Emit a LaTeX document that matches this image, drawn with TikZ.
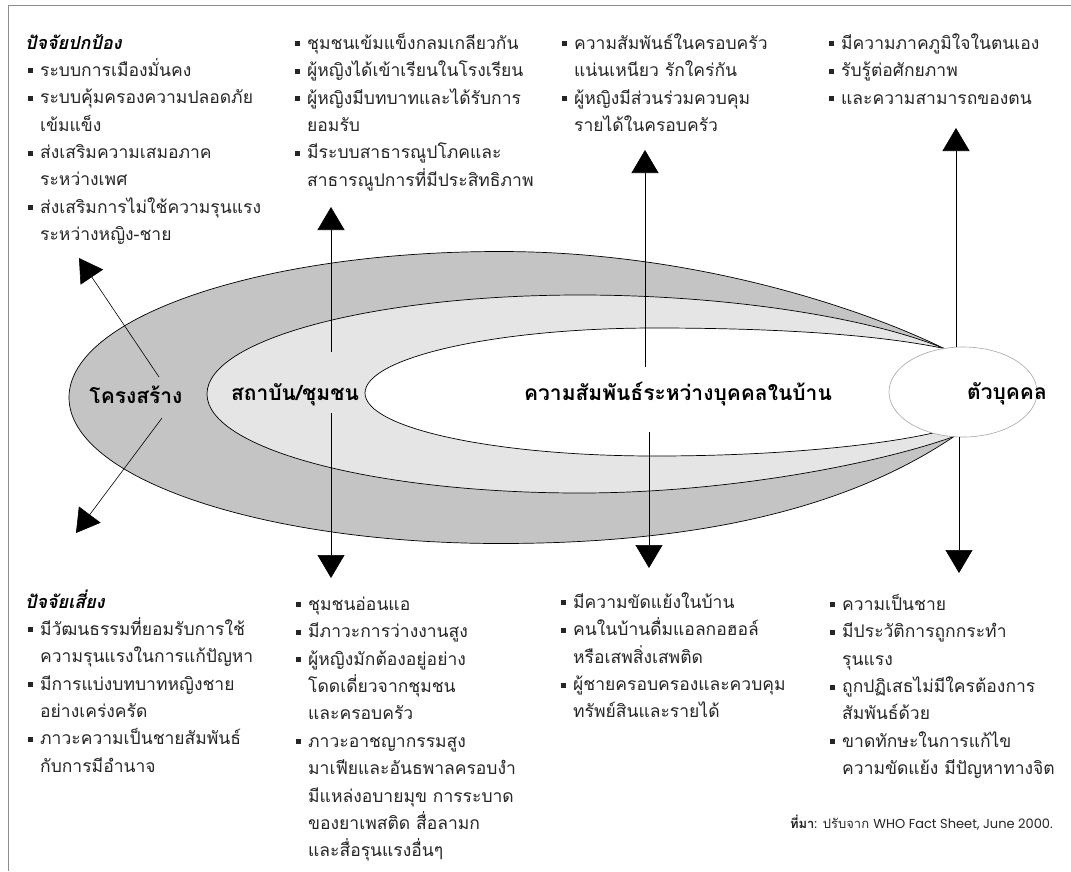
\documentclass[tikz,border=0pt]{standalone}
\usepackage{fontspec}
\usetikzlibrary{arrows.meta,shapes.geometric}
\newfontfamily\thai[Script=Thai]{Loma}
\newfontfamily\geo{Poppins}
\definecolor{outerfill}{gray}{0.77}
\definecolor{midfill}{gray}{0.90}
\definecolor{txt}{gray}{0.15}
\definecolor{framec}{gray}{0.55}
\newcommand{\bsq}{\llap{\rule[3pt]{5pt}{5pt}\hspace{7pt}}}
\tikzset{
  txtblk/.style={anchor=north west, inner sep=0pt, align=left, text=txt,
    font=\thai\fontsize{17.5}{27.4}\selectfont},
  headblk/.style={anchor=north west, inner sep=0pt, align=left, text=black,
    font=\thai\fontsize{18}{27.4}\selectfont\bfseries\itshape},
  lbl/.style={inner sep=0pt, text=black, font=\thai\fontsize{21}{25}\selectfont\bfseries},
  arr/.style={line width=0.6pt, draw=black, -{Triangle[length=23pt,width=27pt]}},
  shapeline/.style={draw=black, line width=0.7pt},
  framel/.style={draw=framec, line width=0.9pt}
}
\begin{document}
\begin{tikzpicture}[x=1pt,y=-1pt]
\useasboundingbox (0,0) rectangle (1071,871);
\fill[white] (0,0) rectangle (1071,871);
% frame
\draw[framel] (8,5) -- (1071,5);
\draw[framel] (8,5) -- (8,871);
% nested shapes
\path[fill=outerfill, shapeline] (944,348.5) .. controls (870,312) and (700,251.5) .. (500,251.5)
  .. controls (262,251.5) and (69,317) .. (69,397.5)
  .. controls (69,478) and (262,543.5) .. (500,543.5)
  .. controls (720,543.5) and (860,500) .. (954,436.5) -- cycle;
\path[fill=midfill, shapeline] (944,348.5) .. controls (870,318) and (730,295) .. (580,295)
  .. controls (374,295) and (207,339.3) .. (207,394)
  .. controls (207,448.7) and (374,493) .. (580,493)
  .. controls (730,493) and (880,463) .. (954,436.5) -- cycle;
\path[fill=white, shapeline] (944,348.5) .. controls (880,335) and (780,328) .. (655,328)
  .. controls (495,328) and (365,357.7) .. (365,393)
  .. controls (365,428.3) and (495,456) .. (655,456)
  .. controls (780,456) and (880,445) .. (933,433) -- cycle;
\node[ellipse, draw=gray!70, line width=0.6pt, fill=white, minimum width=148pt, minimum height=90pt, inner sep=0pt] (indiv) at (963,392) {};
% labels
\node[lbl] (struct) at (136,395) {โครงสร้าง};
\node[lbl] (inst) at (295,395) {สถาบัน/ชุมชน};
\node[lbl] (rel) at (678,394) {ความสัมพันธ์ระหว่างบุคคลในบ้าน};
\node[lbl] (indivlbl) at (1007,394) {ตัวบุคคล};
% arrows
\coordinate (a1s) at (159,377); \coordinate (a1e) at (79,258);
\coordinate (a2s) at (162,418); \coordinate (a2e) at (76,533);
\coordinate (c2s) at (331,352); \coordinate (c2e) at (331,207);
\coordinate (c2d) at (331,413); \coordinate (c2f) at (331,578);
\coordinate (c3s) at (645,367); \coordinate (c3e) at (645,150);
\coordinate (c3d) at (649,432); \coordinate (c3f) at (649,568);
\coordinate (c4e) at (956,128); \coordinate (c4f) at (959,573);
\draw[arr] (a1s) -- (a1e);
\draw[arr] (a2s) -- (a2e);
\draw[arr] (c2s) -- (c2e);
\draw[arr] (c2d) -- (c2f);
\draw[arr] (c3s) -- (c3e);
\draw[arr] (c3d) -- (c3f);
\draw[arr] (indiv.north -| c4e) -- (c4e);
\draw[arr] (indiv.south -| c4f) -- (c4f);
% top texts
\node[headblk] (protT) at (25,30) {\strut ปัจจัยปกป้อง};
\node[txtblk] (prot) at (40,57) {\strut\bsq ระบบการเมืองมั่นคง\\
\bsq ระบบคุ้มครองความปลอดภัย\\
เข้มแข็ง\\
\bsq ส่งเสริมความเสมอภาค\\
ระหว่างเพศ\\
\bsq ส่งเสริมการไม่ใช้ความรุนแรง\\
ระหว่างหญิง-ชาย};
\node[txtblk] (t2) at (307,30) {\strut\bsq ชุมชนเข้มแข็งกลมเกลียวกัน\\
\bsq ผู้หญิงได้เข้าเรียนในโรงเรียน\\
\bsq ผู้หญิงมีบทบาทและได้รับการ\\
ยอมรับ\\
\bsq มีระบบสาธารณูปโภคและ\\
สาธารณูปการที่มีประสิทธิภาพ};
\node[txtblk] (t3) at (574,30) {\strut\bsq ความสัมพันธ์ในครอบครัว\\
แน่นเหนียว รักใคร่กัน\\
\bsq ผู้หญิงมีส่วนร่วมควบคุม\\
รายได้ในครอบครัว};
\node[txtblk] (t4) at (841,30) {\strut\bsq มีความภาคภูมิใจในตนเอง\\
\bsq รับรู้ต่อศักยภาพ\\
\bsq และความสามารถของตน};
% bottom texts
\node[headblk] (riskT) at (25,589) {\strut ปัจจัยเสี่ยง};
\node[txtblk] (risk) at (40,616) {\strut\bsq มีวัฒนธรรมที่ยอมรับการใช้\\
ความรุนแรงในการแก้ปัญหา\\
\bsq มีการแบ่งบทบาทหญิงชาย\\
อย่างเคร่งครัด\\
\bsq ภาวะความเป็นชายสัมพันธ์\\
กับการมีอำนาจ};
\node[txtblk] (b2) at (308,591) {\strut\bsq ชุมชนอ่อนแอ\\
\bsq มีภาวะการว่างงานสูง\\
\bsq ผู้หญิงมักต้องอยู่อย่าง\\
โดดเดี่ยวจากชุมชน\\
และครอบครัว\\
\bsq ภาวะอาชญากรรมสูง\\
มาเฟียและอันธพาลครอบงำ\\
มีแหล่งอบายมุข การระบาด\\
ของยาเพสติด สื่อลามก\\
และสื่อรุนแรงอื่นๆ};
\node[txtblk] (b3) at (573,589) {\strut\bsq มีความขัดแย้งในบ้าน\\
\bsq คนในบ้านดื่มแอลกอฮอล์\\
หรือเสพสิ่งเสพติด\\
\bsq ผู้ชายครอบครองและควบคุม\\
ทรัพย์สินและรายได้};
\node[txtblk] (b4) at (842,591) {\strut\bsq ความเป็นชาย\\
\bsq มีประวัติการถูกกระทำ\\
รุนแรง\\
\bsq ถูกปฏิเสธไม่มีใครต้องการ\\
สัมพันธ์ด้วย\\
\bsq ขาดทักษะในการแก้ไข\\
ความขัดแย้ง มีปัญหาทางจิต};
% source
\node[anchor=east, inner sep=0pt, text=txt, font=\fontsize{13}{16}\selectfont] (src) at (1053,823)
  {{\thai\bfseries ที่มา}{\geo:} {\thai ปรับจาก} {\geo WHO Fact Sheet, June 2000.}};
\end{tikzpicture}
\end{document}
